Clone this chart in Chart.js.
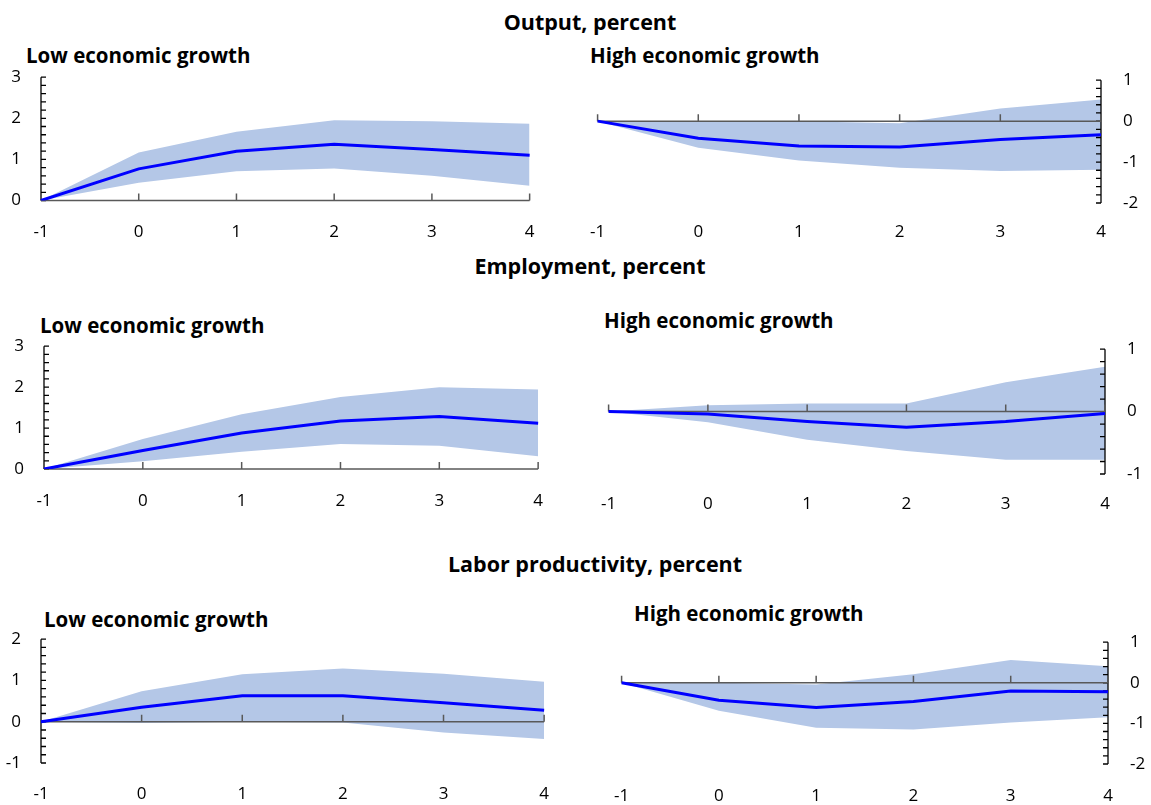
<!DOCTYPE html>
<html>
<head>
<meta charset="utf-8">
<script src="https://cdn.jsdelivr.net/npm/chart.js@4"></script>
<style>
  body { margin: 0; background: #fff; width: 1151px; height: 805px; position: relative; overflow: hidden; font-family: "Open Sans", sans-serif; }
  .title { position: absolute; font-weight: bold; font-size: 21.5px; color: #000; white-space: nowrap; transform: translate(-50%, -50%); }
  .sub { position: absolute; font-weight: bold; font-size: 20.5px; color: #000; white-space: nowrap; transform: translateY(-50%); }
  .panel { position: absolute; }
</style>
</head>
<body>
<div class="title" style="left:590px; top:21px;">Output, percent</div>
<div class="title" style="left:590px; top:265px;">Employment, percent</div>
<div class="title" style="left:595px; top:563px;">Labor productivity, percent</div>

<div class="sub" style="left:26px; top:55px;">Low economic growth</div>
<div class="sub" style="left:590px; top:55px;">High economic growth</div>
<div class="sub" style="left:40px; top:325px;">Low economic growth</div>
<div class="sub" style="left:604px; top:320px;">High economic growth</div>
<div class="sub" style="left:44px; top:619px;">Low economic growth</div>
<div class="sub" style="left:634px; top:613px;">High economic growth</div>

<script>
// years after the shock
const periods = ["-1", "0", "1", "2", "3", "4"];

// Output, percent
const outputLowMid   = [0, 0.77, 1.20, 1.37, 1.24, 1.10];
const outputLowUpper = [0, 1.17, 1.67, 1.95, 1.93, 1.87];
const outputLowLower = [0, 0.43, 0.71, 0.78, 0.60, 0.36];
const outputHighMid   = [0, -0.42, -0.61, -0.63, -0.45, -0.33];
const outputHighUpper = [0, 0, 0, -0.05, 0.31, 0.53];
const outputHighLower = [0, -0.65, -0.96, -1.14, -1.22, -1.19];

// Employment, percent
const employLowMid   = [0, 0.45, 0.88, 1.17, 1.28, 1.12];
const employLowUpper = [0, 0.73, 1.34, 1.76, 2.00, 1.94];
const employLowLower = [0, 0.19, 0.42, 0.61, 0.57, 0.31];
const employHighMid   = [0, -0.04, -0.16, -0.25, -0.16, -0.03];
const employHighUpper = [0, 0.10, 0.13, 0.13, 0.47, 0.72];
const employHighLower = [0, -0.17, -0.45, -0.63, -0.77, -0.77];

// Labor productivity, percent
const laborLowMid   = [0, 0.35, 0.63, 0.63, 0.46, 0.28];
const laborLowUpper = [0, 0.74, 1.15, 1.29, 1.16, 0.97];
const laborLowLower = [0, -0.03, 0, -0.02, -0.26, -0.42];
const laborHighMid   = [0, -0.43, -0.61, -0.46, -0.20, -0.22];
const laborHighUpper = [0, 0, -0.04, 0.21, 0.56, 0.41];
const laborHighLower = [0, -0.69, -1.11, -1.15, -0.98, -0.85];

const BAND = "#b4c7e7";
const LINE = "#0000ff";
const FONT = { family: "Open Sans", size: 17 };

// y axis with inward ticks and the zero line with upward ticks,
// drawn after the band and before the blue line
const axisMarks = {
  id: "axisMarks",
  afterDatasetDraw(chart, args, opts) {
    if (args.index !== 1) return;
    const { ctx, chartArea: a, scales: { x, y } } = chart;
    const ax = opts.side === "left" ? a.left : a.right;
    const dir = opts.side === "left" ? 1 : -1;
    ctx.save();
    ctx.strokeStyle = "#000";
    ctx.lineWidth = 1.3;
    ctx.beginPath();
    ctx.moveTo(ax, y.getPixelForValue(y.max));
    ctx.lineTo(ax, y.getPixelForValue(y.min));
    for (let v = y.min; v <= y.max + 1e-9; v += 0.2) {
      const py = y.getPixelForValue(v);
      ctx.moveTo(ax, py);
      ctx.lineTo(ax + dir * 5, py);
    }
    ctx.stroke();

    const y0 = y.getPixelForValue(0);
    ctx.strokeStyle = "#595959";
    ctx.lineWidth = 1.5;
    ctx.beginPath();
    ctx.moveTo(a.left, y0);
    ctx.lineTo(a.right, y0);
    x.ticks.forEach((t, i) => {
      const px = x.getPixelForTick(i);
      ctx.moveTo(px, y0);
      ctx.lineTo(px, y0 - 7);
    });
    ctx.stroke();
    ctx.restore();
  }
};

function chartConfig(p, xH, yW) {
  return {
    type: "line",
    data: {
      labels: periods,
      datasets: [
        { data: p.mid, borderColor: LINE, borderWidth: 3, pointRadius: 0, fill: false, tension: 0 },
        { data: p.upper, borderWidth: 0, borderColor: "rgba(0,0,0,0)", backgroundColor: BAND, pointRadius: 0, fill: "+1", tension: 0 },
        { data: p.lower, borderWidth: 0, borderColor: "rgba(0,0,0,0)", pointRadius: 0, fill: false, tension: 0 }
      ]
    },
    plugins: [axisMarks],
    options: {
      responsive: false,
      animation: false,
      devicePixelRatio: 1,
      layout: { padding: 0 },
      plugins: {
        legend: { display: false },
        tooltip: { enabled: false },
        axisMarks: { side: p.side }
      },
      scales: {
        x: {
          type: "category",
          offset: false,
          grid: { display: false, drawTicks: false },
          border: { display: false },
          ticks: { color: "#000", font: FONT, padding: p.labelY - p.area.bottom - 11, maxRotation: 0, autoSkip: false },
          afterFit: s => { s.height = xH; }
        },
        y: {
          position: p.side,
          min: p.yMin,
          max: p.yMax,
          grid: { display: false, drawTicks: false },
          border: { display: false },
          ticks: { color: "#000", font: FONT, stepSize: 1, padding: p.side === "left" ? 20 : 22 },
          afterFit: s => { s.width = yW; }
        }
      }
    }
  };
}

function makePanel(p) {
  const yW = 60;
  const xH = p.labelY - p.area.bottom + 16;
  const areaW = p.area.right - p.area.left;
  const areaH = p.area.bottom - p.area.top;
  const div = document.createElement("div");
  div.className = "panel";
  const canvas = document.createElement("canvas");
  canvas.width = areaW + yW;
  canvas.height = areaH + xH;
  div.appendChild(canvas);
  document.body.appendChild(div);

  // first pass: find the padding Chart.js adds for the edge labels
  let chart = new Chart(canvas.getContext("2d"), chartConfig(p, xH, yW));
  const ca = chart.chartArea;
  const extraTop = ca.top;
  const extraSide = p.side === "left" ? canvas.width - ca.right : ca.left;
  chart.destroy();

  canvas.width = areaW + yW + extraSide;
  canvas.height = areaH + xH + extraTop;
  div.style.top = (p.area.top - extraTop) + "px";
  div.style.left = (p.side === "left" ? p.area.left - yW : p.area.left - extraSide) + "px";
  new Chart(canvas.getContext("2d"), chartConfig(p, xH, yW));
}

makePanel({ side: "left",  area: { left: 40.5, right: 530, top: 77, bottom: 200.5 }, labelY: 233, yMin: 0, yMax: 3,
  mid: outputLowMid, upper: outputLowUpper, lower: outputLowLower });
makePanel({ side: "right", area: { left: 598, right: 1102, top: 80, bottom: 203 }, labelY: 233, yMin: -2, yMax: 1,
  mid: outputHighMid, upper: outputHighUpper, lower: outputHighLower });
makePanel({ side: "left",  area: { left: 44, right: 539, top: 346, bottom: 469 }, labelY: 502, yMin: 0, yMax: 3,
  mid: employLowMid, upper: employLowUpper, lower: employLowLower });
makePanel({ side: "right", area: { left: 609, right: 1106, top: 349, bottom: 474 }, labelY: 505, yMin: -1, yMax: 1,
  mid: employHighMid, upper: employHighUpper, lower: employHighLower });
makePanel({ side: "left",  area: { left: 41, right: 545, top: 639, bottom: 763 }, labelY: 795, yMin: -1, yMax: 2,
  mid: laborLowMid, upper: laborLowUpper, lower: laborLowLower });
makePanel({ side: "right", area: { left: 622, right: 1109, top: 642, bottom: 764 }, labelY: 797, yMin: -2, yMax: 1,
  mid: laborHighMid, upper: laborHighUpper, lower: laborHighLower });
</script>
</body>
</html>
